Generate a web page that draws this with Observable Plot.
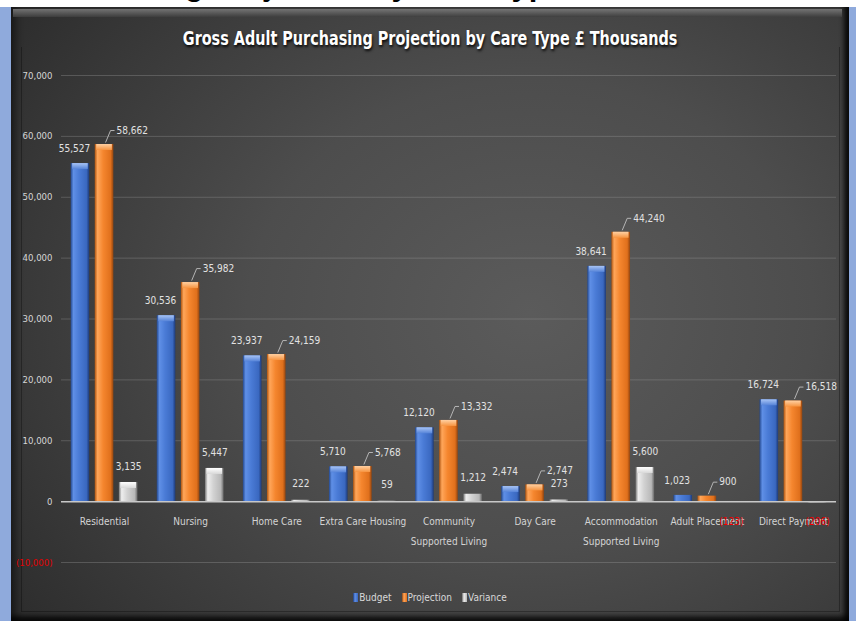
<!DOCTYPE html>
<html>
<head>
<meta charset="utf-8">
<script src="https://cdn.jsdelivr.net/npm/d3@7"></script>
<script src="https://cdn.jsdelivr.net/npm/@observablehq/plot@0.6"></script>
<style>
  html, body { margin: 0; padding: 0; width: 856px; height: 621px; overflow: hidden; background: #fff; }
  body { font-family: "DejaVu Sans Condensed", "DejaVu Sans", sans-serif; font-stretch: condensed; }
  #heading { position: relative; height: 7px; overflow: hidden; background: #fff; }
  #heading span { position: absolute; left: -150px; top: -31px; font: bold 31px/31px "Liberation Sans", sans-serif; color: #000; white-space: nowrap; }
  #row { display: flex; height: 614px; background: #8faadc; }
  #edgeL { width: 11px; }
  #edgeR { width: 7px; }
  #panel {
    position: relative; width: 838px; height: 614px; overflow: hidden;
    background: radial-gradient(ellipse 75% 85% at 62% 50%, #5b5b5b 0%, #4d4d4d 45%, #393939 80%, #2d2d2d 100%);
    box-shadow: inset -7px 0 5px -2px rgba(0,0,0,0.85), inset 0 -9px 5px -4px rgba(0,0,0,0.75), inset 9px 0 7px -4px rgba(0,0,0,0.45);
  }
  #bevel { position: absolute; top: 2px; left: 2px; right: 7px; height: 8px; background: linear-gradient(#7a7a7a, #3e3e3e); opacity: 0.9; }
  #frame { position: absolute; left: 10px; top: 40px; right: 9px; bottom: 9px; border: 1px solid rgba(0,0,0,0.3); border-top: none; pointer-events: none; }
  #title { position: relative; height: 50px; box-sizing: border-box; padding-top: 19px; text-align: center; }
  #title span { display: inline-block; transform: scaleX(0.8); transform-origin: center; white-space: nowrap; color: #fff; font-weight: bold; font-size: 20px; line-height: 24px; text-shadow: 1px 2px 3px rgba(0,0,0,0.9); }
  #chart { position: relative; height: 525px; }
  #chart svg { display: block; }
  #legend { position: relative; height: 30px; display: flex; justify-content: center; align-items: center; gap: 10px; color: #d9d9d9; font-size: 10px; }
  #legend .item { display: flex; align-items: center; gap: 1px; }
  #legend .sw { width: 5px; height: 9px; display: inline-block; }
</style>
</head>
<body>
<div id="heading"><span>Gross Adult Purchasing Projection by Care Type</span></div>
<div id="row">
  <div id="edgeL"></div>
  <div id="panel">
    <div id="bevel"></div>
    <div id="frame"></div>
    <div id="title"><span>Gross Adult Purchasing Projection by Care Type £ Thousands</span></div>
    <div id="chart"></div>
    <div id="legend"></div>
  </div>
  <div id="edgeR"></div>
</div>
<script>
// Care types and their axis labels
const categories = ["Residential", "Nursing", "Home Care", "Extra Care Housing", "Community Supported Living",
  "Day Care", "Accommodation Supported Living", "Adult Placement", "Direct Payment"];
const categoryLabels = ["Residential", "Nursing", "Home Care", "Extra Care Housing", "Community\nSupported Living",
  "Day Care", "Accommodation\nSupported Living", "Adult Placement", "Direct Payment"];

// Series (£ thousands)
const seriesNames = ["Budget", "Projection", "Variance"];
const budget = [55527, 30536, 23937, 5710, 12120, 2474, 38641, 1023, 16724];
const projection = [58662, 35982, 24159, 5768, 13332, 2747, 44240, 900, 16518];
const variance = [3135, 5447, 222, 59, 1212, 273, 5600, -123, -206];

// Value axis ticks
const yTicks = [-10000, 0, 10000, 20000, 30000, 40000, 50000, 60000, 70000];

const FONT = '"DejaVu Sans Condensed", "DejaVu Sans", sans-serif';
const W = 838, H = 525, mL = 50, mR = 13, mT = 18, mB = 20;
const xPerPx = categories.length / (W - mL - mR);
const yPerPx = (yTicks[yTicks.length - 1] - yTicks[0]) / (H - mT - mB);

const seriesValues = [budget, projection, variance];
const groupOffset = [-0.28, 0, 0.28];   // bar position within each care type
const halfBar = 0.108;                    // half bar width in category units

const rows = seriesNames.map((name, k) => categories.map((cat, i) => ({
  series: name, k, i, cat, value: seriesValues[k][i], x: i + groupOffset[k]
})));

const fmt = d3.format(",");
const fmtSigned = v => v < 0 ? `(${fmt(-v)})` : fmt(v);

const barMarks = rows.flatMap((r, k) => [
  Plot.rect(r, {x1: d => d.x - halfBar, x2: d => d.x + halfBar, y1: 0, y2: "value",
    fill: `url(#bar${k})`, ariaLabel: `bars ${seriesNames[k]}`}),
  Plot.rect(r.filter(d => d.value > 8 * yPerPx), {x1: d => d.x - halfBar, x2: d => d.x + halfBar,
    y1: "value", y2: "value", insetBottom: -6, insetLeft: 1.5, insetRight: 1.5,
    fill: `url(#cap${k})`})
]);

const proj = rows[1];
const varPos = rows[2].filter(d => d.value >= 0);
const varNeg = rows[2].filter(d => d.value < 0);
const labelFill = "#e2e2e2";

const plot = Plot.plot({
  width: W, height: H,
  marginLeft: mL, marginRight: mR, marginTop: mT, marginBottom: mB,
  style: {background: "transparent", fontFamily: FONT, fontSize: "10px", color: "#d9d9d9", overflow: "visible"},
  x: {domain: [-0.5, categories.length - 0.5], axis: null},
  y: {domain: [yTicks[0], yTicks[yTicks.length - 1]], axis: null},
  marks: [
    Plot.gridY(yTicks, {stroke: "#a8a8a8", strokeOpacity: 0.3}),
    Plot.axisY(yTicks.filter(t => t >= 0), {tickSize: 0, tickPadding: 9, tickFormat: fmt,
      fill: "#d6d6d6", fontSize: 9.5, label: null}),
    Plot.axisY(yTicks.filter(t => t < 0), {tickSize: 0, tickPadding: 9, tickFormat: fmtSigned,
      fill: "#e00000", fontSize: 9.5, label: null}),
    ...barMarks,
    Plot.ruleY([0], {stroke: "#c8c8c8", strokeWidth: 1.5}),
    // leader lines for projection labels
    Plot.link(proj, {x1: d => d.x + 1 * xPerPx, y1: d => d.value + 2 * yPerPx,
      x2: d => d.x + 6 * xPerPx, y2: d => d.value + 14 * yPerPx, stroke: "#c0c0c0", strokeWidth: 0.9}),
    Plot.link(proj, {x1: d => d.x + 6 * xPerPx, y1: d => d.value + 14 * yPerPx,
      x2: d => d.x + 10 * xPerPx, y2: d => d.value + 14 * yPerPx, stroke: "#c0c0c0", strokeWidth: 0.9}),
    // value labels
    Plot.text(rows[0], {x: "x", y: "value", text: d => fmtSigned(d.value), dx: -6, dy: -15,
      fill: labelFill, fontSize: 10}),
    Plot.text(proj, {x: "x", y: "value", text: d => fmtSigned(d.value), dx: 12, dy: -14,
      textAnchor: "start", fill: labelFill, fontSize: 10}),
    Plot.text(varPos, {x: "x", y: "value", text: d => fmtSigned(d.value), dy: -16,
      fill: labelFill, fontSize: 10}),
    // category labels along the zero line
    Plot.text(categories, {x: (d, i) => i, y: () => 0, text: (d, i) => categoryLabels[i],
      dy: 9, lineAnchor: "top", lineHeight: 2, fill: "#d4d4d4", fontSize: 10}),
    Plot.text(varNeg, {x: "x", y: () => 0, text: d => fmtSigned(d.value), dy: 20,
      fill: "#ee0000", fontSize: 10})
  ]
});

// gradients and shadow for the bevelled bars
const barColors = [
  ["#24498f", "#5f8fe6", "#4a7bd6", "#3a68c0", "#1d3a78"],
  ["#b0550f", "#ffa65a", "#f5862e", "#e0701c", "#924510"],
  ["#777777", "#eeeeee", "#d2d2d2", "#b8b8b8", "#6a6a6a"]
];
const capColors = [["#a8c4f5", "#5583d8"], ["#ffd0a2", "#f79440"], ["#ffffff", "#d8d8d8"]];
const defs = d3.select(plot).insert("defs", ":first-child");
barColors.forEach((c, k) => {
  const g = defs.append("linearGradient").attr("id", `bar${k}`).attr("x1", 0).attr("x2", 1).attr("y1", 0).attr("y2", 0);
  [0, 0.15, 0.45, 0.85, 1].forEach((o, j) => g.append("stop").attr("offset", o).attr("stop-color", c[j]));
  const cap = defs.append("linearGradient").attr("id", `cap${k}`).attr("x1", 0).attr("x2", 0).attr("y1", 0).attr("y2", 1);
  cap.append("stop").attr("offset", 0).attr("stop-color", capColors[k][0]);
  cap.append("stop").attr("offset", 1).attr("stop-color", capColors[k][1]);
});
const f = defs.append("filter").attr("id", "barShadow").attr("x", "-50%").attr("y", "-10%").attr("width", "200%").attr("height", "130%");
f.append("feDropShadow").attr("dx", 2).attr("dy", 1).attr("stdDeviation", 2)
  .attr("flood-color", "#000").attr("flood-opacity", 0.6);
plot.querySelectorAll('g[aria-label^="bars"]').forEach(g => g.setAttribute("filter", "url(#barShadow)"));

document.getElementById("chart").appendChild(plot);

// legend
const legend = d3.select("#legend");
seriesNames.forEach((name, k) => {
  const item = legend.append("div").attr("class", "item");
  item.append("span").attr("class", "sw")
    .style("background", `linear-gradient(90deg, ${barColors[k][4]}, ${barColors[k][1]} 40%, ${barColors[k][3]})`);
  item.append("span").text(name);
});
</script>
</body>
</html>
